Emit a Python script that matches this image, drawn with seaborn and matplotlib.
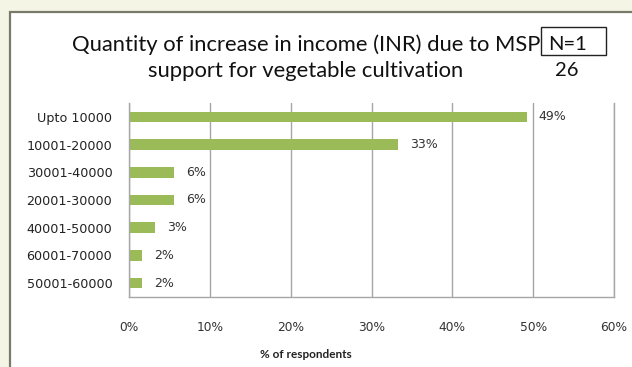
import matplotlib
matplotlib.use("Agg")
import matplotlib.pyplot as plt
from matplotlib.patches import Rectangle
import seaborn as sns
import pandas as pd

# Income increase bands and respondent counts (N = 126)
bands = ["Upto 10000", "10001-20000", "30001-40000", "20001-30000",
         "40001-50000", "60001-70000", "50001-60000"]
counts = [62, 42, 7, 7, 4, 2, 2]
total_n = 126
x_ticks = [0, 10, 20, 30, 40, 50, 60]

pct = [c / total_n * 100 for c in counts]
df = pd.DataFrame({"band": bands, "pct": pct})

sns.set_theme(style="white")
plt.rcParams["font.family"] = ["DejaVu Sans"]

W, H = 632, 367
fig = plt.figure(figsize=(W / 100, H / 100), dpi=100)
fig.patch.set_facecolor("#f5f5e6")

# white chart panel with dark frame, running off the right and bottom edges
fig.patches.append(Rectangle((10.5 / W, -0.1), 1.2, 1.1 - 12.5 / H,
                             transform=fig.transFigure, facecolor="white",
                             edgecolor="#7a7a6a", linewidth=1.6, zorder=-5))

left, right, top, bottom = 129, 614, 103, 297
ax = fig.add_axes([left / W, 1 - bottom / H, (right - left) / W, (bottom - top) / H])
ax.set_zorder(2)
ax.set_facecolor("white")

sns.barplot(data=df, x="pct", y="band", orient="h", color="#9bbb59",
            saturation=1, width=0.38, linewidth=0, ax=ax)

ax.set_xlim(0, 60)
ax.set_ylim(len(bands) - 0.5, -0.5)
ax.set_xticks(x_ticks)
ax.set_xticklabels([f"{t}%" for t in x_ticks], fontsize=8.8, color="#333333")
ax.tick_params(axis="x", length=0, pad=17)
ax.tick_params(axis="y", length=0, pad=12, labelsize=9.2, labelcolor="#222222")
ax.set_xlabel("")
ax.set_ylabel("")

ax.grid(axis="x", color="#a6a6a6", linewidth=1)
ax.set_axisbelow(True)
ax.spines["top"].set_visible(False)
for side in ["left", "bottom", "right"]:
    ax.spines[side].set_color("#a6a6a6")
    ax.spines[side].set_linewidth(1)

for i, v in enumerate(pct):
    ax.annotate(f"{v:.0f}%", xy=(v, i), xytext=(8.6, 0), textcoords="offset points",
                ha="left", va="center", fontsize=9, color="#333333")

# title
fig.text(306 / W, 1 - 45 / H, "Quantity of increase in income (INR) due to MSP",
         ha="center", va="center", fontsize=15.8, family="Lato", color="#111111")
fig.text(306 / W, 1 - 71 / H, "support for vegetable cultivation",
         ha="center", va="center", fontsize=15.8, family="Lato", color="#111111")

# sample size box
fig.patches.append(Rectangle((541 / W, 1 - 55 / H), 65 / W, 28 / H,
                             transform=fig.transFigure, facecolor="white",
                             edgecolor="#222222", linewidth=1, zorder=5))
fig.text(568 / W, 1 - 44 / H, "N=1", ha="center", va="center", fontsize=14.5,
         family="Lato", color="#111111", zorder=6)
fig.text(567 / W, 1 - 70 / H, "26", ha="center", va="center", fontsize=14.5,
         family="Lato", color="#111111", zorder=6)

# axis title
fig.text(306 / W, 1 - 355 / H, "% of respondents", ha="center", va="center",
         fontsize=8.5, family="Lato", fontweight="bold", color="#222222")

fig.savefig("out.png", dpi=100, facecolor=fig.get_facecolor())
